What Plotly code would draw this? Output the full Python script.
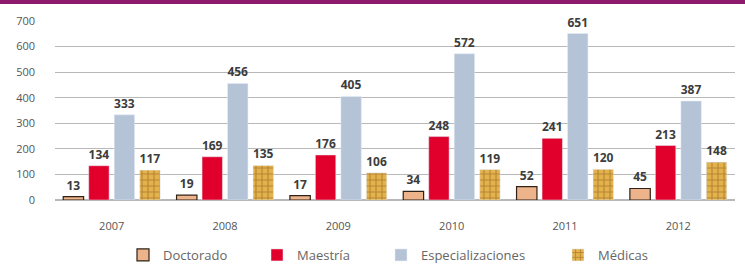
import plotly.graph_objects as go

years = ["2007", "2008", "2009", "2010", "2011", "2012"]
doctorado = [13, 19, 17, 34, 52, 45]
maestria = [134, 169, 176, 248, 241, 213]
especializaciones = [333, 456, 405, 572, 651, 387]
medicas = [117, 135, 106, 119, 120, 148]

label_font = dict(family="Noto Sans", size=12, color="#3C3C3C", weight="bold")

fig = go.Figure()
fig.add_trace(go.Bar(name="Doctorado", x=years, y=doctorado, text=doctorado, legend="legend",
                     marker=dict(color="#EDB48C", line=dict(color="#2E2218", width=1.2))))
fig.add_trace(go.Bar(name="Maestría", x=years, y=maestria, text=maestria, legend="legend2",
                     marker=dict(color="#E0002B")))
fig.add_trace(go.Bar(name="Especializaciones", x=years, y=especializaciones, text=especializaciones,
                     legend="legend3", marker=dict(color="#B5C3D7")))
fig.add_trace(go.Bar(name="Médicas", x=years, y=medicas, text=medicas, legend="legend4",
                     marker=dict(color="#D9A441",
                                 pattern=dict(shape="+", fgcolor="#8A5A1A", bgcolor="#E3B24C", size=6, solidity=0.35))))
fig.update_traces(textposition="outside", textfont=label_font, cliponaxis=False)

legend_font = dict(family="Open Sans", size=13, color="#666666")
def leg(xpx):
    return dict(orientation="h", x=xpx / 745, xanchor="left", xref="container",
                yref="container", y=10 / 265, yanchor="middle",
                font=legend_font, itemwidth=30, bgcolor="rgba(0,0,0,0)")

fig.update_layout(
    width=745, height=265,
    margin=dict(l=55, r=10, t=21, b=65, autoexpand=False),
    paper_bgcolor="white", plot_bgcolor="white",
    barmode="group", bargap=0.1, bargroupgap=0.2,
    uniformtext=dict(minsize=12, mode="show"),
    showlegend=True,
    legend=leg(123), legend2=leg(257), legend3=leg(381), legend4=leg(558),
    xaxis=dict(tickfont=dict(family="Open Sans", size=11, color="#555555"),
               showline=False, ticks="", ticklabelstandoff=18),
    yaxis=dict(range=[0, 700], dtick=100, showgrid=True, gridcolor="#B8B8B8",
               tickfont=dict(family="Open Sans", size=11, color="#555555"),
               zeroline=True, zerolinecolor="#B8B8B8", ticks="", ticklabelstandoff=19),
)
# purple top band
fig.add_shape(type="rect", xref="paper", yref="paper", x0=-55/680, x1=1+10/680,
              y0=1+17/179, y1=1+21/179, fillcolor="#8E1A6C", line=dict(width=0), layer="above")

fig.write_html("out.html", config={"displayModeBar": False},
               post_script="document.body.style.margin='0';")
